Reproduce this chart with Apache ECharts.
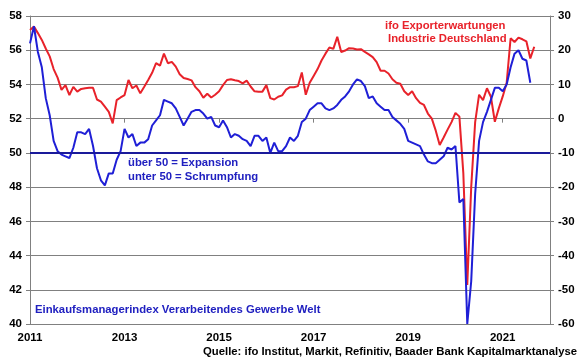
<!DOCTYPE html>
<html>
<head>
<meta charset="utf-8">
<script src="https://cdn.jsdelivr.net/npm/echarts@6/dist/echarts.min.js"></script>
<style>
  html, body { margin: 0; padding: 0; background: #fff; }
  #chart { width: 580px; height: 359px; }
</style>
</head>
<body>
<div id="chart"></div>
<script>
// months counted from Jan 2011 (0) ; ticks every 2 years
var yearLabels = ['2011', '2013', '2015', '2017', '2019', '2021'];

// Einkaufsmanagerindex Verarbeitendes Gewerbe Welt (linke Achse), Jan 2011 - Aug 2021
var pmiWelt = [
  56.4, 57.4, 55.9, 55.0, 53.2, 52.2, 50.7, 50.1, 49.9, 49.8, 49.7, 50.3,
  51.2, 51.2, 51.1, 51.4, 50.4, 49.1, 48.4, 48.1, 48.8, 48.8, 49.6, 50.1,
  51.4, 50.9, 51.1, 50.4, 50.6, 50.6, 50.8, 51.6, 51.9, 52.2, 53.1, 53.0,
  52.9, 52.6, 52.1, 51.6, 52.0, 52.4, 52.5, 52.5, 52.3, 52.0, 52.1, 51.6,
  51.5, 51.9, 51.5, 50.9, 51.1, 51.0, 50.8, 50.7, 50.4, 51.0, 51.0, 50.7,
  50.9, 50.0, 50.6, 50.1, 50.1, 50.4, 50.9, 50.7, 51.0, 51.8, 52.0, 52.5,
  52.7, 52.9, 52.9, 52.6, 52.5, 52.6, 52.8, 53.1, 53.3, 53.6, 54.0, 54.3,
  54.2, 53.9, 53.2, 53.3, 52.9, 52.7, 52.5, 52.5, 52.1, 51.9, 51.7, 51.4,
  50.7, 50.6, 50.5, 50.4, 49.9, 49.5, 49.4, 49.4, 49.6, 49.8, 50.3, 50.2,
  50.4, 47.1, 47.3, 40.0, 42.5, 47.6, 50.7, 51.8, 52.4, 53.1, 53.8, 53.8,
  53.6, 54.0, 55.0, 55.8, 56.0, 55.5, 55.4, 54.1
];

// ifo Exporterwartungen Industrie Deutschland (rechte Achse), Jan 2011 - Sep 2021
var ifoExport = [
  25.9, 26.9, 25.0, 23.0, 20.5, 18.2, 14.5, 12.0, 8.4, 9.8, 6.9, 9.3,
  7.9, 8.7, 8.9, 9.0, 9.0, 5.6, 5.0, 3.5, 2.0, -1.4, 5.4, 6.2,
  6.9, 11.3, 8.9, 9.7, 7.4, 9.3, 11.3, 13.4, 16.2, 15.5, 19.0, 16.2,
  16.6, 15.2, 13.0, 11.9, 11.6, 11.2, 9.2, 8.0, 6.1, 7.3, 6.2, 7.0,
  8.0, 9.8, 11.3, 11.5, 11.2, 11.0, 10.3, 11.1, 9.4, 8.0, 7.9, 7.9,
  9.8, 6.0, 5.6, 6.4, 6.8, 8.5, 9.2, 9.2, 9.5, 13.5, 7.0, 10.5,
  12.5, 14.5, 17.0, 19.0, 20.8, 20.4, 23.9, 19.5, 19.9, 20.6, 20.5, 20.2,
  20.3, 19.5, 18.8, 18.0, 16.5, 14.0, 14.0, 13.2, 11.5, 10.5, 10.2, 8.0,
  6.9, 8.0, 6.0, 4.6, 4.0, 1.5, 0.0, -3.5, -7.7, -5.5, -3.2, -1.0,
  1.7, 0.6, -16.0, -48.6, -20.0, -1.0, 7.0, 5.4, 8.9, 6.4, -0.9, 3.0,
  6.5, 10.5, 23.5, 22.4, 23.7, 23.2, 22.6, 17.6, 21.0
];

function toPairs(arr) {
  var out = [];
  for (var i = 0; i < arr.length; i++) out.push([i, arr[i]]);
  return out;
}

var font = '"Liberation Sans", Arial, sans-serif';
var txt = 'bold 11.3px ' + font;
var chart = echarts.init(document.getElementById('chart'));
var option = {
  animation: false,
  grid: { left: 30, right: 30, top: 16, bottom: 35 },
  xAxis: {
    type: 'value', min: 0, max: 132, interval: 24,
    axisLine: { lineStyle: { color: '#808080', width: 1 } },
    axisTick: { length: 4, lineStyle: { color: '#808080' } },
    splitLine: { show: false },
    axisLabel: {
      color: '#000', fontWeight: 'bold', fontSize: 11.5, fontFamily: font, margin: 8,
      formatter: function (v) { return yearLabels[v / 24] || ''; }
    }
  },
  yAxis: [
    {
      type: 'value', min: 40, max: 58, interval: 2,
      axisLine: { show: true, lineStyle: { color: '#808080' } },
      axisTick: { show: true, length: 4, lineStyle: { color: '#808080' } },
      splitLine: { lineStyle: { color: '#808080', width: 1 } },
      axisLabel: { color: '#000', fontWeight: 'bold', fontSize: 11.5, fontFamily: font, margin: 8 }
    },
    {
      type: 'value', min: -60, max: 30, interval: 10,
      axisLine: { show: true, lineStyle: { color: '#808080' } },
      axisTick: { show: true, length: 4, lineStyle: { color: '#808080' } },
      splitLine: { show: false },
      axisLabel: { color: '#000', fontWeight: 'bold', fontSize: 11.5, fontFamily: font, margin: 8 }
    }
  ],
  series: [
    {
      name: 'ifo', type: 'line', yAxisIndex: 1, data: toPairs(ifoExport),
      showSymbol: false, lineStyle: { color: '#e8222a', width: 2 }
    },
    {
      name: 'PMI', type: 'line', yAxisIndex: 0, data: toPairs(pmiWelt),
      showSymbol: false, lineStyle: { color: '#1f1fd6', width: 2 },
      markLine: {
        silent: true, symbol: 'none', label: { show: false },
        lineStyle: { color: '#1a1a9a', width: 2, type: 'solid' },
        data: [{ yAxis: 50 }]
      }
    }
  ],
  graphic: [
    { type: 'text', left: 385, top: 20, style: { text: 'ifo Exporterwartungen', fill: '#e8222a', font: txt } },
    { type: 'text', left: 388, top: 33, style: { text: 'Industrie Deutschland', fill: '#e8222a', font: txt } },
    { type: 'text', left: 128, top: 157, style: { text: 'über 50 = Expansion', fill: '#2020c0', font: txt } },
    { type: 'text', left: 128, top: 171, style: { text: 'unter 50 = Schrumpfung', fill: '#2020c0', font: txt } },
    { type: 'text', left: 35, top: 304, style: { text: 'Einkaufsmanagerindex Verarbeitendes Gewerbe Welt', fill: '#2020c0', font: txt } },
    { type: 'text', right: 3, top: 346, style: { text: 'Quelle: ifo Institut, Markit, Refinitiv, Baader Bank Kapitalmarktanalyse', fill: '#000', font: txt } }
  ]
};
chart.setOption(option);
</script>
</body>
</html>
